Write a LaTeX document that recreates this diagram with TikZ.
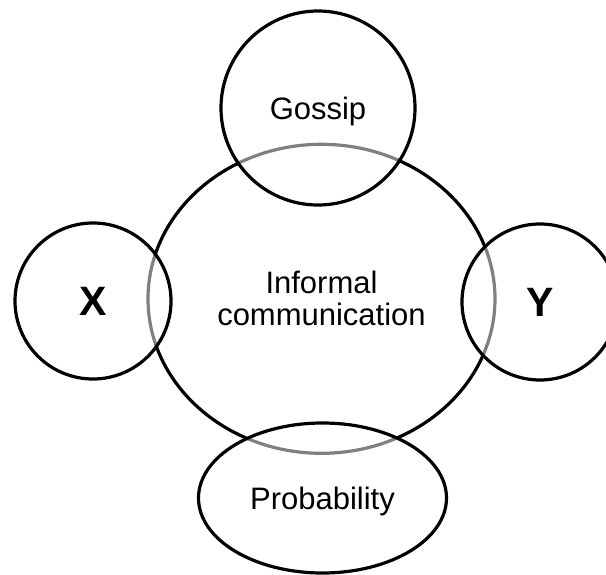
\documentclass[tikz,border=0pt]{standalone}
\usepackage{fontspec}
\setmainfont{Liberation Sans}
\usetikzlibrary{shapes.geometric}

\begin{document}
\begin{tikzpicture}[
    x=1pt, y=-1pt,
    hub/.style={ellipse, draw=black, line width=3.2pt, inner sep=0pt,
        minimum width=347pt, minimum height=309pt, align=center,
        font=\fontsize{31}{32}\selectfont},
    topic/.style={draw=black, line width=3.2pt, inner sep=0pt,
        fill=white, fill opacity=0.5, text opacity=1,
        font=\fontsize{31}{32}\selectfont, text depth=0pt},
    letter/.style={topic, circle, minimum size=156pt,
        font=\fontsize{41}{41}\selectfont\bfseries}
]

% Page frame
\useasboundingbox (0,0) rectangle (606,574);

% Central circle
\node[hub] (comm) at (321.5,298.8) {Informal\\communication};

% Surrounding circles, half see-through
\node[topic, circle, minimum size=194pt] (gossip) at (318,108) {Gossip};
\node[letter] (x) at (93,301) {X};
\node[letter] (y) at (540,302) {Y};
\node[topic, ellipse, minimum width=248pt, minimum height=150pt] (prob) at (322.5,498) {Probability};

\end{tikzpicture}
\end{document}
